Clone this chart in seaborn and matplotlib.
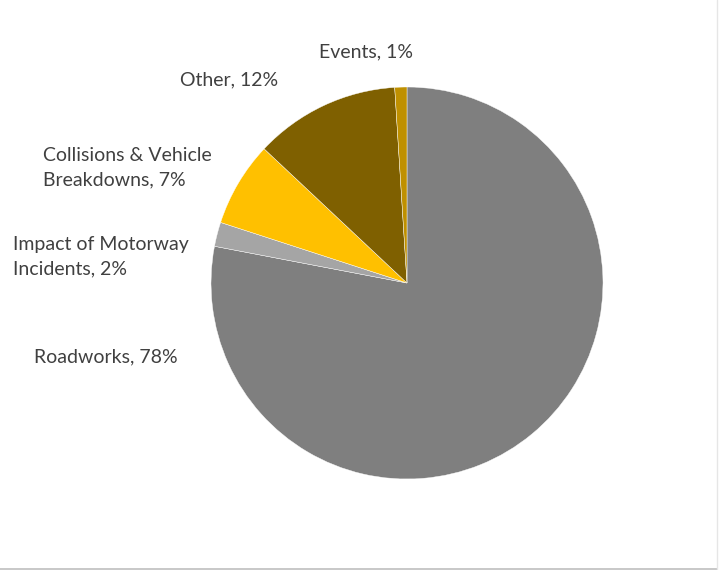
import matplotlib
matplotlib.use('Agg')
import matplotlib.pyplot as plt
import seaborn as sns

# Data
categories = ['Roadworks', 'Impact of Motorway\nIncidents', 'Collisions & Vehicle\nBreakdowns', 'Other', 'Events']
shares = [78, 2, 7, 12, 1]
colors = ['#7f7f7f', '#a5a5a5', '#ffc000', '#7f6000', '#bf9000']

sns.set_theme(style='white')
plt.rcParams['font.family'] = ['Lato', 'DejaVu Sans']

W, H = 719, 570
fig = plt.figure(figsize=(W / 100, H / 100), dpi=100)

# pie centre (407, 283) px, radius 196 px
cx, cy, r = 407, 283, 196
ax = fig.add_axes([(cx - r) / W, (H - cy - r) / H, 2 * r / W, 2 * r / H])
ax.pie(shares, colors=colors, startangle=90, counterclock=False,
       wedgeprops=dict(edgecolor='white', linewidth=0.3), radius=1)
ax.set_xlim(-1, 1)
ax.set_ylim(-1, 1)
ax.set_aspect('equal')
ax.axis('off')

# labels (pixel positions of text)
label_pos = [(34, 357, 'left'), (13, 257, 'left'), (43, 168, 'left'),
             (229, 80, 'center'), (366, 52, 'center')]
for cat, val, (x, y, ha) in zip(categories, shares, label_pos):
    fig.text(x / W, 1 - y / H, f'{cat}, {val}%', ha=ha, va='center',
             fontsize=14, color='#404040', linespacing=1.55)

# faint frame at the bottom and right edges
fig.add_artist(plt.Line2D([0, 717 / W], [1.5 / H, 1.5 / H], color='#bfbfbf', lw=1.2))
fig.add_artist(plt.Line2D([717 / W, 717 / W], [1.5 / H, 1], color='#e6e6e6', lw=1))

fig.savefig('out.png', dpi=100)
